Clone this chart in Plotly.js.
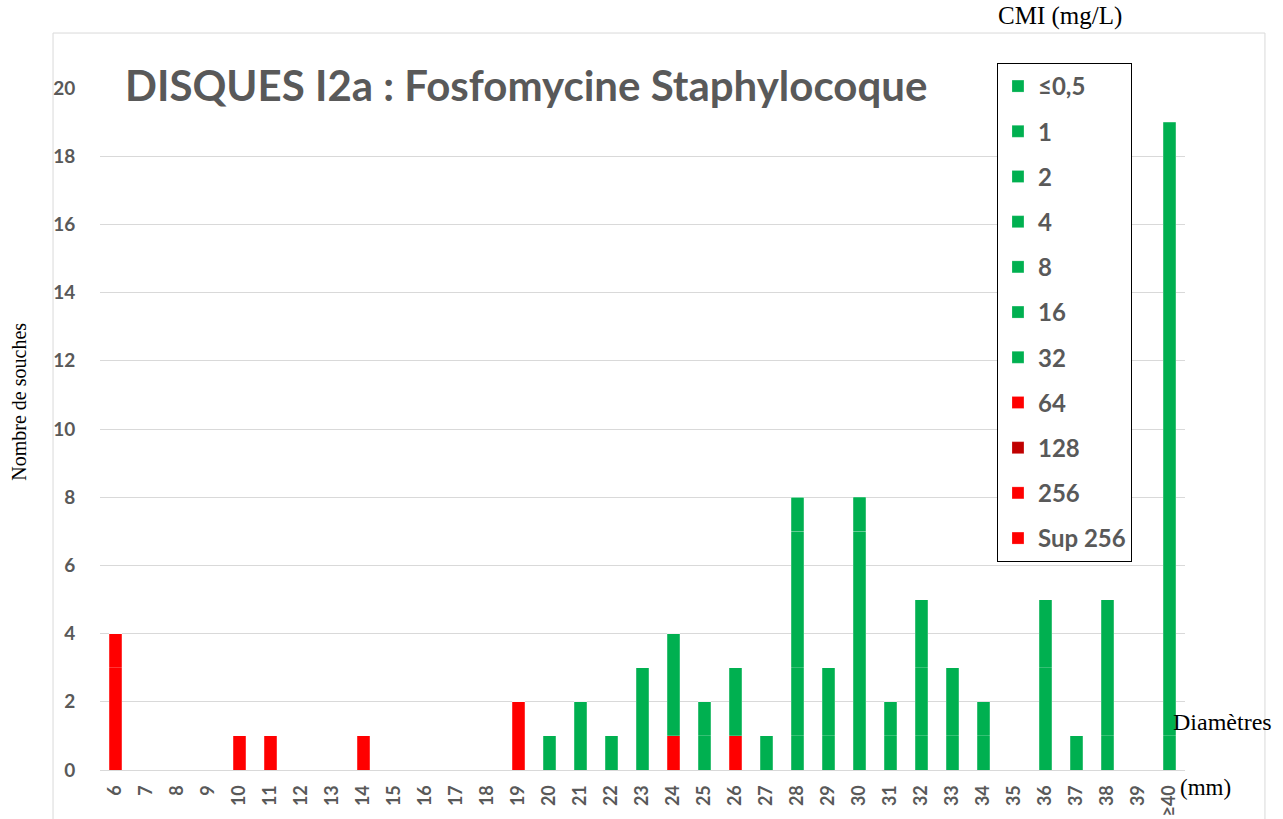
<!DOCTYPE html>
<html><head><meta charset="utf-8">
<script src="https://cdn.plot.ly/plotly-3.0.1.min.js"></script>
<style>body{margin:0;background:#fff}#c{width:1283px;height:819px}</style>
</head><body><div id="c"></div>
<script>
const categories = ["6","7","8","9","10","11","12","13","14","15","16","17","18","19","20","21","22","23","24","25","26","27","28","29","30","31","32","33","34","35","36","37","38","39","≥40"];
// stacking order bottom -> top
const seriesNames = ["Sup 256","256","128","64","32","16","8","4","2","1","≤0,5"];
const seriesColors = ["#FF0000","#FF0000","#C00000","#FF0000","#00B050","#00B050","#00B050","#00B050","#00B050","#00B050","#00B050"];
//                 6 7 8 9 10 11 12 13 14 15 16 17 18 19 20 21 22 23 24 25 26 27 28 29 30 31 32 33 34 35 36 37 38 39 40
const vSup256  = [3,0,0,0,1, 1, 0, 0, 0, 0, 0, 0, 0, 0, 0, 0, 0, 0, 0, 0, 0, 0, 0, 0, 0, 0, 0, 0, 0, 0, 0, 0, 0, 0, 0];
const v256     = [1,0,0,0,0, 0, 0, 0, 0, 0, 0, 0, 0, 2, 0, 0, 0, 0, 0, 0, 0, 0, 0, 0, 0, 0, 0, 0, 0, 0, 0, 0, 0, 0, 0];
const v128     = [0,0,0,0,0, 0, 0, 0, 0, 0, 0, 0, 0, 0, 0, 0, 0, 0, 0, 0, 0, 0, 0, 0, 0, 0, 0, 0, 0, 0, 0, 0, 0, 0, 0];
const v64      = [0,0,0,0,0, 0, 0, 0, 1, 0, 0, 0, 0, 0, 0, 0, 0, 0, 1, 0, 1, 0, 0, 0, 0, 0, 0, 0, 0, 0, 0, 0, 0, 0, 0];
const v32      = [0,0,0,0,0, 0, 0, 0, 0, 0, 0, 0, 0, 0, 0, 0, 0, 0, 0, 0, 0, 0, 0, 0, 0, 0, 0, 0, 0, 0, 0, 0, 0, 0, 0];
const v16      = [0,0,0,0,0, 0, 0, 0, 0, 0, 0, 0, 0, 0, 0, 0, 0, 0, 0, 0, 0, 0, 0, 0, 0, 0, 0, 0, 0, 0, 0, 0, 0, 0, 0];
const v8       = [0,0,0,0,0, 0, 0, 0, 0, 0, 0, 0, 0, 0, 0, 0, 0, 0, 0, 0, 0, 0, 1, 0, 0, 0, 0, 0, 0, 0, 0, 0, 0, 0, 0];
const v4       = [0,0,0,0,0, 0, 0, 0, 0, 0, 0, 0, 0, 0, 1, 0, 0, 0, 0, 1, 0, 0, 2, 0, 0, 0, 0, 0, 0, 0, 0, 0, 0, 0, 0];
const v2       = [0,0,0,0,0, 0, 0, 0, 0, 0, 0, 0, 0, 0, 0, 2, 0, 3, 3, 1, 0, 0, 4, 1, 0, 1, 1, 0, 0, 0, 0, 0, 0, 0, 0];
const v1       = [0,0,0,0,0, 0, 0, 0, 0, 0, 0, 0, 0, 0, 0, 0, 1, 0, 0, 0, 2, 1, 1, 2, 7, 1, 2, 1, 1, 0, 3, 0, 1, 0, 1];
const vLe05    = [0,0,0,0,0, 0, 0, 0, 0, 0, 0, 0, 0, 0, 0, 0, 0, 0, 0, 0, 0, 0, 0, 0, 1, 0, 2, 2, 1, 0, 2, 1, 4, 0, 18];
const seriesValues = [vSup256, v256, v128, v64, v32, v16, v8, v4, v2, v1, vLe05];
const yTicks = [0,2,4,6,8,10,12,14,16,18,20];

const gray = "#595959";
const fontSans = "Lato, 'Open Sans', sans-serif";
const fontSerif = "'Liberation Serif', 'DejaVu Serif', serif";
const n = seriesNames.length;
const traces = seriesNames.map((nm,i)=>({
  type:"bar", name:nm, x:categories, y:seriesValues[i],
  marker:{color:seriesColors[i], line:{width:0.6, color:"rgba(255,255,255,0.35)"}},
  legendgroup:"g"+i, legendrank:n-i, hoverinfo:"x+y+name"
}));

const layout = {
  width:1283, height:819,
  margin:{l:100, r:98, t:88, b:49},
  paper_bgcolor:"#fff", plot_bgcolor:"#fff",
  barmode:"stack", bargap:0.6,
  showlegend:true,
  legend:{x:0.8267, y:1.0367, xanchor:"left", yanchor:"top",
    bordercolor:"#000", borderwidth:1, bgcolor:"#fff",
    traceorder:"grouped", tracegroupgap:11, maxheight:700,
    font:{family:fontSans, size:24, color:gray, weight:"bold"},
    itemwidth:30},
  xaxis:{type:"category", tickangle:-90, showgrid:false, zeroline:false, showline:false,
    ticks:"outside", ticklen:7, tickcolor:"rgba(0,0,0,0)",
    tickfont:{family:fontSans, size:18, color:gray, weight:"bold"}},
  yaxis:{range:[0,20], tickvals:yTicks, showgrid:true, gridcolor:"#d9d9d9", gridwidth:1,
    zeroline:true, zerolinecolor:"#d9d9d9", zerolinewidth:1, showline:false,
    ticks:"outside", ticklen:20, tickcolor:"rgba(0,0,0,0)",
    tickfont:{family:fontSans, size:19, color:gray, weight:"bold"}},
  shapes:[{type:"rect", xref:"paper", yref:"paper", x0:-0.0433, x1:1.0737, y0:-0.3, y1:1.0806,
    line:{color:"#d9d9d9", width:1}, fillcolor:"rgba(0,0,0,0)", layer:"below"}],
  annotations:[
    {text:"DISQUES I2a : Fosfomycine Staphylocoque", xref:"paper", yref:"paper", x:0.0212, y:1.0044,
      xanchor:"left", yanchor:"middle", showarrow:false,
      font:{family:fontSans, size:42, color:gray, weight:"bold"}},
    {text:"Nombre de souches", xref:"paper", yref:"paper", x:-0.0747, y:0.54, textangle:-90,
      xanchor:"center", yanchor:"middle", showarrow:false,
      font:{family:fontSerif, size:20, color:"#000"}},
    {text:"CMI (mg/L)", xref:"paper", yref:"paper", x:0.826, y:1.105, xanchor:"left", yanchor:"middle",
      showarrow:false, font:{family:fontSerif, size:25, color:"#000"}},
    {text:"Diamètres", xref:"paper", yref:"paper", x:0.9875, y:0.0704, xanchor:"left", yanchor:"middle",
      showarrow:false, font:{family:fontSerif, size:24, color:"#000"}},
    {text:"(mm)", xref:"paper", yref:"paper", x:0.9935, y:-0.025, xanchor:"left", yanchor:"middle",
      showarrow:false, font:{family:fontSerif, size:23, color:"#000"}}
  ]
};
Plotly.newPlot("c", traces, layout, {displayModeBar:false, staticPlot:true});
</script></body></html>
